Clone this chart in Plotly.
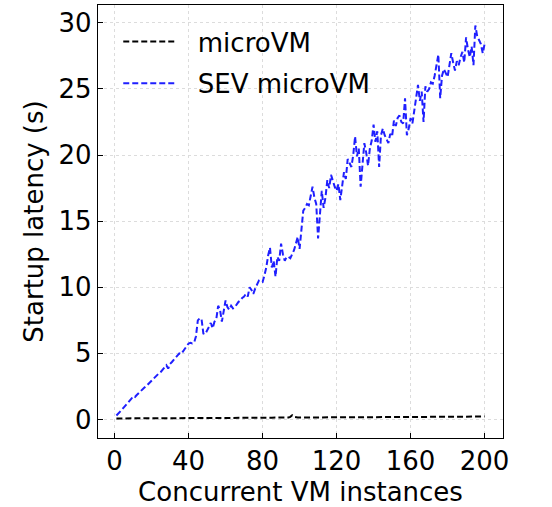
import plotly.graph_objects as go

x_vals = list(range(1, 201))

micro_vm = [
    0.08, 0.08, 0.08, 0.08, 0.08, 0.08, 0.08, 0.09, 0.08, 0.08,
    0.09, 0.09, 0.08, 0.09, 0.09, 0.09, 0.09, 0.09, 0.09, 0.09,
    0.09, 0.09, 0.09, 0.10, 0.09, 0.10, 0.09, 0.10, 0.10, 0.10,
    0.10, 0.10, 0.10, 0.10, 0.10, 0.10, 0.10, 0.10, 0.11, 0.10,
    0.11, 0.11, 0.10, 0.11, 0.11, 0.11, 0.11, 0.11, 0.11, 0.11,
    0.11, 0.11, 0.12, 0.11, 0.12, 0.12, 0.12, 0.12, 0.12, 0.12,
    0.12, 0.12, 0.12, 0.12, 0.12, 0.13, 0.12, 0.13, 0.13, 0.13,
    0.13, 0.13, 0.13, 0.13, 0.13, 0.13, 0.13, 0.13, 0.14, 0.13,
    0.14, 0.14, 0.14, 0.14, 0.14, 0.14, 0.14, 0.14, 0.14, 0.14,
    0.14, 0.15, 0.14, 0.15, 0.20, 0.32, 0.20, 0.15, 0.15, 0.15,
    0.15, 0.15, 0.15, 0.15, 0.16, 0.15, 0.16, 0.16, 0.16, 0.16,
    0.16, 0.16, 0.16, 0.16, 0.16, 0.16, 0.16, 0.17, 0.16, 0.17,
    0.17, 0.17, 0.17, 0.17, 0.17, 0.17, 0.17, 0.17, 0.17, 0.17,
    0.17, 0.18, 0.17, 0.18, 0.18, 0.18, 0.18, 0.18, 0.18, 0.18,
    0.18, 0.18, 0.18, 0.18, 0.18, 0.19, 0.18, 0.19, 0.19, 0.19,
    0.19, 0.19, 0.19, 0.19, 0.19, 0.19, 0.19, 0.19, 0.19, 0.19,
    0.20, 0.19, 0.20, 0.20, 0.20, 0.20, 0.20, 0.20, 0.20, 0.20,
    0.20, 0.20, 0.20, 0.21, 0.20, 0.21, 0.21, 0.21, 0.21, 0.21,
    0.21, 0.21, 0.21, 0.21, 0.21, 0.21, 0.21, 0.22, 0.21, 0.22,
    0.22, 0.22, 0.22, 0.22, 0.22, 0.22, 0.22, 0.22, 0.22, 0.22,
]

sev_micro_vm = [
    0.30, 0.42, 0.60, 0.75, 0.90, 1.05, 1.25, 1.40, 1.55, 1.75,
    1.70, 1.85, 2.00, 2.15, 2.30, 2.40, 2.50, 2.65, 2.75, 2.90,
    3.05, 3.20, 3.35, 3.50, 3.60, 3.75, 3.90, 4.10, 3.85, 4.20,
    4.35, 4.50, 4.65, 4.80, 5.00, 4.95, 5.20, 5.35, 5.55, 5.75,
    5.80, 5.75, 5.80, 6.30, 7.50, 7.65, 7.60, 6.50, 6.45, 6.80,
    7.00, 7.30, 6.90, 7.40, 7.60, 8.60, 8.30, 7.40, 8.30, 9.00,
    8.50, 8.30, 8.60, 8.40, 8.50, 8.70, 8.90, 9.00, 9.20, 9.30,
    9.50, 9.30, 10.00, 9.80, 9.50, 9.90, 10.20, 10.50, 10.40, 10.40,
    10.90, 11.50, 12.40, 13.00, 11.50, 12.00, 10.80, 12.30, 12.00, 13.30,
    12.50, 12.00, 12.30, 12.30, 12.20, 12.50, 12.80, 13.30, 13.80, 12.90,
    14.50, 15.80, 16.00, 16.30, 16.20, 17.00, 17.60, 16.80, 16.30, 13.70,
    15.50, 17.30, 16.00, 16.80, 18.10, 17.50, 18.50, 18.00, 17.60, 17.30,
    17.80, 16.60, 17.50, 18.70, 18.20, 19.70, 19.40, 19.10, 20.00, 21.40,
    19.90, 20.50, 17.60, 19.00, 20.90, 20.20, 19.20, 20.50, 21.10, 22.30,
    21.00, 21.80, 19.10, 21.50, 22.00, 21.50, 21.20, 20.90, 21.60, 21.40,
    22.60, 22.20, 22.80, 23.00, 22.50, 22.40, 24.30, 21.50, 22.00, 22.80,
    22.40, 23.50, 24.20, 25.30, 24.10, 24.80, 22.50, 25.20, 24.80, 25.00,
    25.50, 25.40, 26.00, 26.80, 27.60, 24.30, 26.00, 26.50, 26.20, 25.90,
    26.80, 27.70, 27.00, 26.40, 27.10, 26.80, 27.40, 27.80, 27.00, 28.90,
    28.00, 27.40, 28.20, 26.80, 29.80, 29.00, 28.70, 28.40, 27.70, 28.40,
]

x_ticks = [0, 40, 80, 120, 160, 200]
y_ticks = [0, 5, 10, 15, 20, 25, 30]

FONT = "DejaVu Sans"
FS = 26

fig = go.Figure()
fig.add_trace(go.Scatter(
    x=x_vals, y=micro_vm, mode="lines", name="\u00a0\u00a0microVM",
    line=dict(color="black", width=2, dash="6px,3px"),
    legendgroup="a",
))
fig.add_trace(go.Scatter(
    x=x_vals, y=sev_micro_vm, mode="lines", name="\u00a0\u00a0SEV microVM",
    line=dict(color="#1f1fff", width=2, dash="6px,3px"),
    legendgroup="b",
))

axis_common = dict(
    showline=True, linecolor="black", linewidth=1.3, mirror=True,
    ticks="inside", ticklen=5, tickwidth=1.2, tickcolor="black",
    showgrid=True, gridcolor="#dcdcdc", griddash="dot", gridwidth=1,
    zeroline=False, automargin=False,
    tickfont=dict(family=FONT, size=FS, color="black"),
)

fig.update_layout(
    width=552, height=507,
    margin=dict(l=98, r=49, t=5, b=69),
    paper_bgcolor="white", plot_bgcolor="white",
    font=dict(family=FONT, size=FS, color="black"),
    xaxis=dict(
        range=[-8.95, 209.95], tickvals=x_ticks,
        title=dict(text="Concurrent VM instances", font=dict(family=FONT, size=FS), standoff=12),
        **axis_common,
    ),
    yaxis=dict(
        range=[-1.4, 31.35], tickvals=y_ticks,
        title=dict(text="Startup latency (s)", font=dict(family=FONT, size=FS), standoff=7),
        **axis_common,
    ),
    legend=dict(
        x=0.05, y=0.97, xanchor="left", yanchor="top",
        bgcolor="rgba(0,0,0,0)", borderwidth=0,
        font=dict(family=FONT, size=FS, color="black"),
        itemwidth=53, traceorder="grouped", tracegroupgap=5,
    ),
)

fig.write_html("out.html", config={"displayModeBar": False},
               post_script="document.body.style.margin='0';")
